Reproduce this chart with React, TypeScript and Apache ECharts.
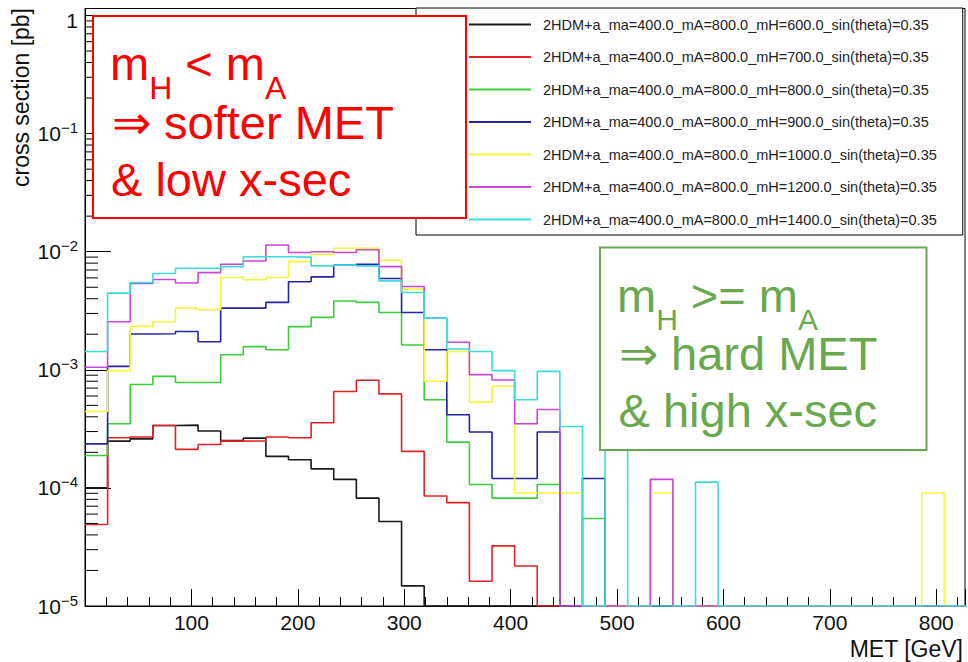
import React, { useEffect, useRef } from 'react';
import * as echarts from 'echarts';

// ---- binning / axes ----
const BIN_WIDTH = 21.25; // GeV, histogram 0..850 in 40 bins
const X_MIN = 0;
const X_MAX = 827;
const Y_MIN = 1e-5;
const Y_MAX = 1.146;

// ---- legend labels ----
const SERIES_NAMES = [
  '2HDM+a_ma=400.0_mA=800.0_mH=600.0_sin(theta)=0.35',
  '2HDM+a_ma=400.0_mA=800.0_mH=700.0_sin(theta)=0.35',
  '2HDM+a_ma=400.0_mA=800.0_mH=800.0_sin(theta)=0.35',
  '2HDM+a_ma=400.0_mA=800.0_mH=900.0_sin(theta)=0.35',
  '2HDM+a_ma=400.0_mA=800.0_mH=1000.0_sin(theta)=0.35',
  '2HDM+a_ma=400.0_mA=800.0_mH=1200.0_sin(theta)=0.35',
  '2HDM+a_ma=400.0_mA=800.0_mH=1400.0_sin(theta)=0.35',
];
const COLORS = ['#1a1a1a', '#e02424', '#3ccc3c', '#2424a8', '#f6f63a', '#c846d8', '#3cdcdc'];

// ---- cross section per MET bin [pb] (40 bins of 21.25 GeV) ----
const mH600 = [
  1.0e-4, 2.49e-4, 2.6e-4, 3.38e-4, 3.4e-4, 3.03e-4, 2.52e-4, 2.64e-4, 1.85e-4, 1.73e-4,
  1.45e-4, 1.18e-4, 8.2e-5, 5.2e-5, 1.48e-5, 0, 0, 0, 0, 0,
  0, 0, 0, 0, 0, 0, 0, 0, 0, 0,
  0, 0, 0, 0, 0, 0, 0, 0, 0, 0,
];
const mH700 = [
  4.9e-5, 2.66e-4, 2.7e-4, 3.38e-4, 2.12e-4, 2.33e-4, 2.49e-4, 2.5e-4, 2.7e-4, 2.66e-4,
  3.56e-4, 6.55e-4, 8.15e-4, 6.25e-4, 2.04e-4, 8.55e-5, 7.5e-5, 1.62e-5, 3.23e-5, 2.18e-5,
  0, 0, 0, 0, 0, 0, 0, 0, 0, 0,
  0, 0, 0, 0, 0, 0, 0, 0, 0, 0,
];
const mH800 = [
  1.88e-4, 3.49e-4, 7.5e-4, 8.8e-4, 7.8e-4, 7.8e-4, 1.34e-3, 1.57e-3, 1.48e-3, 2.32e-3,
  2.78e-3, 3.82e-3, 3.72e-3, 3.06e-3, 1.62e-3, 5.57e-4, 2.44e-4, 1.07e-4, 8.2e-5, 8.2e-5,
  1.07e-4, 0, 5.5e-5, 0, 0, 0, 0, 0, 0, 0,
  0, 0, 0, 0, 0, 0, 0, 0, 0, 0,
];
const mH900 = [
  2.36e-4, 1.07e-3, 2.01e-3, 2.02e-3, 2.11e-3, 1.73e-3, 3.33e-3, 3.33e-3, 3.72e-3, 5.56e-3,
  6.12e-3, 7.69e-3, 7.84e-3, 5.93e-3, 3.06e-3, 1.48e-3, 4.16e-4, 2.97e-4, 1.2e-4, 1.2e-4,
  2.97e-4, 0, 1.2e-4, 0, 0, 0, 0, 0, 0, 0,
  0, 0, 0, 0, 0, 0, 0, 0, 0, 0,
];
const mH1000 = [
  4.44e-4, 9.85e-4, 2.33e-3, 2.55e-3, 3.33e-3, 3.22e-3, 6.04e-3, 5.78e-3, 6.04e-3, 8.24e-3,
  9.5e-3, 1.07e-2, 1.07e-2, 8.47e-3, 4.82e-3, 8.0e-4, 1.43e-3, 5.32e-4, 7.26e-4, 9.06e-5,
  9.06e-5, 9.06e-5, 0, 0, 0, 9.06e-5, 0, 0, 0, 0,
  0, 0, 0, 0, 0, 0, 0, 9.06e-5, 0, 0,
];
const mH1200 = [
  1.05e-3, 2.55e-3, 5.38e-3, 5.81e-3, 5.44e-3, 6.65e-3, 7.84e-3, 8.35e-3, 1.14e-2, 9.84e-3,
  1.0e-2, 9.84e-3, 1.04e-2, 7.48e-3, 5.07e-3, 2.74e-3, 1.71e-3, 9.1e-4, 8.2e-4, 3.49e-4,
  4.61e-4, 0, 0, 0, 0, 1.18e-4, 0, 0, 0, 0,
  0, 0, 0, 0, 0, 0, 0, 0, 0, 0,
];
const mH1400 = [
  1.43e-3, 4.46e-3, 5.48e-3, 6.53e-3, 7.25e-3, 7.25e-3, 7.48e-3, 9.05e-3, 9.05e-3, 9.0e-3,
  7.59e-3, 7.7e-3, 7.59e-3, 5.66e-3, 4.51e-3, 2.74e-3, 1.5e-3, 1.43e-3, 9.85e-4, 5.57e-4,
  9.7e-4, 3.31e-4, 0, 3.5e-4, 0, 0, 0, 1.12e-4, 0, 0,
  0, 0, 0, 0, 0, 0, 0, 0, 0, 0,
];
const SERIES_VALUES = [mH600, mH700, mH800, mH900, mH1000, mH1200, mH1400];

const FONT = '"Liberation Sans", Arial, Helvetica, sans-serif';
const RED = '#ff0000';
const GREEN = '#6aa84f';

function stepPoints(vals: number[]): number[][] {
  const pts: number[][] = [];
  vals.forEach((v, i) => {
    const y = v > Y_MIN ? v : Y_MIN; // empty bins drawn on the frame bottom
    pts.push([i * BIN_WIDTH, y]);
    pts.push([(i + 1) * BIN_WIDTH, y]);
  });
  return pts;
}

function minorLogTicks(): number[][] {
  const out: number[][] = [];
  for (let e = -5; e < 0; e++) {
    for (let m = 2; m <= 9; m++) out.push([X_MIN, m * Math.pow(10, e)]);
  }
  return out;
}

function txt(text: string, x: number, y: number, size: number, color: string, extra: any = {}) {
  return {
    type: 'text',
    x,
    y,
    z: 110,
    silent: true,
    ...extra,
    style: {
      text,
      fill: color,
      fontSize: size,
      fontFamily: FONT,
      align: 'left',
      verticalAlign: 'middle',
      ...(extra.style || {}),
    },
  };
}

// "m_H <op> m_A" line with real subscripts, as one rich text
function massLine(op: string, x: number, top: number, color: string, subSize: number, subPad: number) {
  return {
    type: 'text',
    x,
    y: top,
    z: 110,
    silent: true,
    style: {
      text: '{a|m}{b|H}{a| ' + op + ' m}{b|A}',
      fill: color,
      fontFamily: FONT,
      align: 'left',
      verticalAlign: 'top',
      rich: {
        a: { fontSize: 47, lineHeight: 47, fontFamily: FONT, fill: color, verticalAlign: 'top' },
        b: {
          fontSize: subSize,
          lineHeight: subSize,
          fontFamily: FONT,
          fill: color,
          verticalAlign: 'top',
          padding: [subPad, 0, 0, 0],
        },
      },
    },
  };
}

export default function App() {
  const ref = useRef<HTMLDivElement>(null);
  useEffect(() => {
    const chart = echarts.init(ref.current!, null, { renderer: 'svg' });
    const histSeries = SERIES_VALUES.map((vals, i) => ({
      name: SERIES_NAMES[i],
      type: 'line',
      data: stepPoints(vals),
      symbol: 'none',
      showSymbol: false,
      silent: true,
      clip: true,
      color: COLORS[i],
      itemStyle: { color: COLORS[i], opacity: 0 },
      lineStyle: { color: COLORS[i], width: 1.6 },
      z: 2,
    }));
    const option: any = {
      animation: false,
      backgroundColor: '#fff',
      grid: {
        left: 85,
        right: 3,
        top: 7,
        bottom: 56,
        show: true,
        borderColor: '#000',
        borderWidth: 1,
        backgroundColor: 'transparent',
      },
      xAxis: {
        type: 'value',
        min: X_MIN,
        max: X_MAX,
        interval: 100,
        axisLine: { show: true, onZero: false, lineStyle: { color: '#000', width: 1 } },
        axisTick: { show: true, inside: true, length: 17, lineStyle: { color: '#000' } },
        minorTick: { show: true, splitNumber: 5, length: 9, lineStyle: { color: '#000' } },
        splitLine: { show: false },
        axisLabel: {
          fontSize: 21,
          fontFamily: FONT,
          color: '#111',
          margin: 6,
          showMaxLabel: false,
          formatter: (v: number) => (v === 0 ? '' : String(v)),
        },
      },
      yAxis: {
        type: 'log',
        logBase: 10,
        min: Y_MIN,
        max: Y_MAX,
        axisLine: { show: true, lineStyle: { color: '#000', width: 1 } },
        axisTick: { show: true, inside: true, length: 26, lineStyle: { color: '#000' } },
        splitLine: { show: false },
        axisLabel: {
          margin: 7,
          showMaxLabel: false,
          formatter: (v: number) => {
            const e = Math.round(Math.log10(v));
            if (e === 0) return '{one|1}';
            return '{b|10}{s|\u2212' + String(-e) + '}';
          },
          rich: {
            one: { fontSize: 21, fontFamily: FONT, color: '#111', lineHeight: 27, padding: [10, 0, 0, 0] },
            b: { fontSize: 21, fontFamily: FONT, color: '#111', lineHeight: 27 },
            s: { fontSize: 15, fontFamily: FONT, color: '#111', lineHeight: 15, verticalAlign: 'top' },
          },
        },
      },
      legend: {
        data: SERIES_NAMES,
        orient: 'vertical',
        left: 416,
        top: 8,
        itemWidth: 62,
        itemHeight: 14,
        itemGap: 17.5,
        padding: [9, 26, 8, 52],
        borderColor: '#000',
        borderWidth: 1,
        backgroundColor: '#fff',
        selectedMode: false,
        itemStyle: { opacity: 0 },
        z: 5,
        textStyle: { fontSize: 14.5, fontFamily: FONT, color: '#222', lineHeight: 14, padding: [0, 0, 0, 7] },
      },
      graphic: {
        elements: [
          // y-axis title
          txt('cross section [pb]', 20.5, 8, 23, '#111', {
            rotation: Math.PI / 2,
            style: { align: 'right' },
          }),
          // x-axis title
          txt('MET [GeV]', 963, 648.5, 23, '#111', { style: { align: 'right' } }),
          // red annotation box
          {
            type: 'rect',
            z: 100,
            silent: true,
            shape: { x: 93, y: 16, width: 373, height: 202 },
            style: { fill: '#fff', stroke: RED, lineWidth: 2 },
          },
          massLine('<', 110, 40.2, RED, 32, 32),
          txt('\u21D2 softer MET', 112, 122, 47, RED),
          txt('& low x-sec', 111, 179.7, 47, RED),
          // green annotation box
          {
            type: 'rect',
            z: 100,
            silent: true,
            shape: { x: 600, y: 247.5, width: 326.5, height: 202.5 },
            style: { fill: '#fff', stroke: GREEN, lineWidth: 2 },
          },
          massLine('>=', 617, 271.9, GREEN, 30, 33),
          txt('\u21D2 hard MET', 619, 353, 47, GREEN),
          txt('& high x-sec', 618.5, 410.4, 47, GREEN),
        ],
      },
      series: [
        ...histSeries,
        {
          type: 'custom',
          silent: true,
          z: 3,
          data: minorLogTicks(),
          renderItem: (_params: any, api: any) => {
            const p = api.coord([X_MIN, api.value(1)]);
            return {
              type: 'line',
              shape: { x1: p[0], y1: p[1], x2: p[0] + 13, y2: p[1] },
              style: { stroke: '#000', lineWidth: 1 },
            };
          },
        },
      ],
    };
    chart.setOption(option);
    return () => chart.dispose();
  }, []);
  return (
    <div
      ref={ref}
      style={{ position: 'fixed', left: 0, top: 0, width: 968, height: 662, background: '#fff' }}
    />
  );
}
